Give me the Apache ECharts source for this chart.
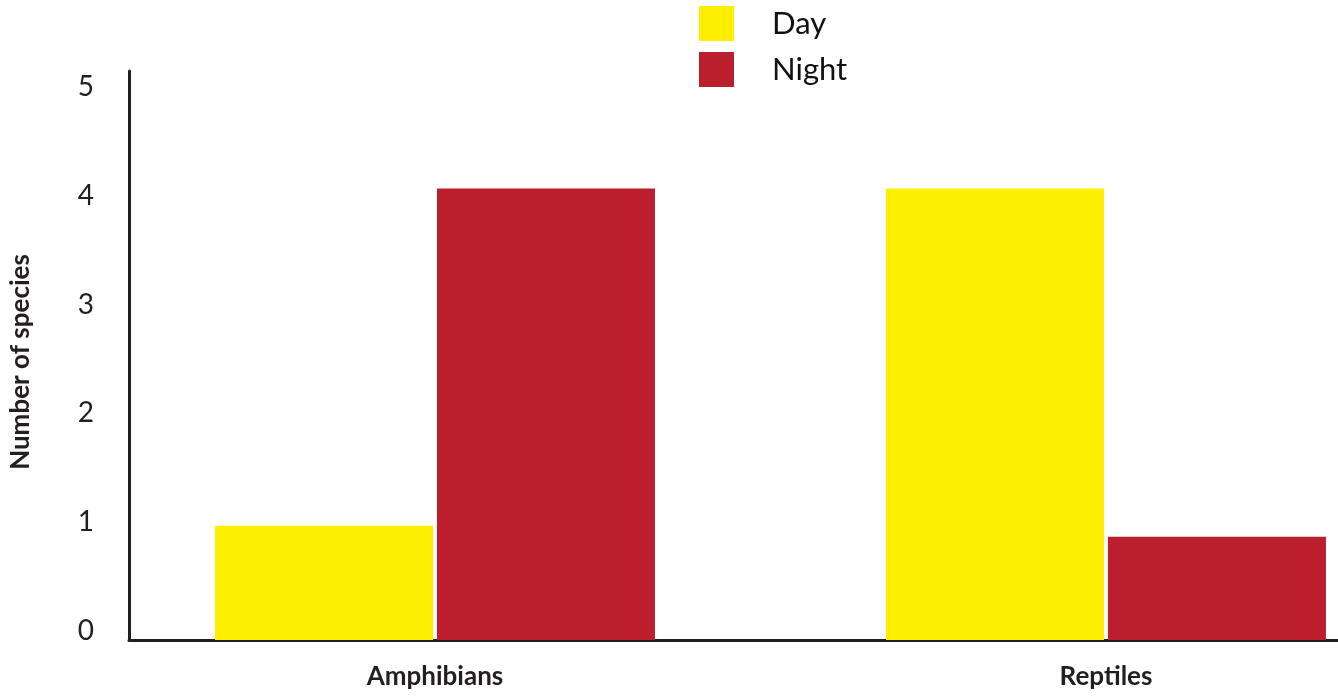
<!DOCTYPE html>
<html>
<head>
<meta charset="utf-8">
<script src="https://cdn.jsdelivr.net/npm/echarts@6/dist/echarts.min.js"></script>
<style>
  html, body { margin: 0; padding: 0; background: #ffffff; }
  #chart { width: 1338px; height: 696px; }
</style>
</head>
<body>
<div id="chart"></div>
<script>
// Species counts by activity period
const categories = ['Amphibians', 'Reptiles'];
const daySpecies = [1.05, 4.15];
const nightSpecies = [4.15, 0.95];
const seriesNames = ['Day', 'Night'];
const yMin = 0;
const yMax = 5.23;
const yStep = 1;

const ink = '#231F20';
const yellow = '#FEEF00';
const red = '#BB1F2E';
const font = 'Lato, "Open Sans", sans-serif';

const chart = echarts.init(document.getElementById('chart'));

chart.setOption({
  animation: false,
  backgroundColor: '#ffffff',
  legend: {
    orient: 'vertical',
    left: 699,
    top: 6,
    padding: 0,
    itemWidth: 35,
    itemHeight: 35,
    itemGap: 11,
    icon: 'rect',
    selectedMode: false,
    data: seriesNames,
    textStyle: {
      fontFamily: font,
      fontSize: 31,
      color: '#111111',
      padding: [0, 0, 0, 33]
    }
  },
  grid: [
    // frame grid: carries the visible axis lines and value labels
    { left: 128, right: 0, top: 71, bottom: 56, containLabel: false },
    // bar grid: category ticks sit at the centre of each bar pair
    { left: 435, right: 232, top: 71, bottom: 56, containLabel: false }
  ],
  xAxis: [
    {
      gridIndex: 0,
      type: 'category',
      data: ['', ''],
      axisLine: { show: true, lineStyle: { color: ink, width: 3 } },
      axisTick: { show: false },
      axisLabel: { show: false },
      splitLine: { show: false }
    },
    {
      gridIndex: 1,
      type: 'category',
      boundaryGap: false,
      data: categories,
      axisLine: { show: false },
      axisTick: { show: false },
      splitLine: { show: false },
      axisLabel: {
        margin: 24,
        fontFamily: font,
        fontSize: 26,
        fontWeight: 'bold',
        color: ink
      }
    }
  ],
  yAxis: [
    {
      gridIndex: 0,
      type: 'value',
      min: yMin,
      max: yMax,
      interval: yStep,
      name: 'Number of species',
      nameLocation: 'middle',
      nameGap: 95,
      nameRotate: 90,
      nameTextStyle: {
        fontFamily: font,
        fontSize: 26,
        fontWeight: 'bold',
        color: ink,
        padding: [0, 13, 0, 0]
      },
      axisLine: { show: true, lineStyle: { color: ink, width: 3 } },
      axisTick: { show: false },
      splitLine: { show: false },
      axisLabel: {
        showMaxLabel: false,
        margin: 35,
        verticalAlign: 'bottom',
        lineHeight: 18,
        fontFamily: font,
        fontSize: 28,
        color: ink,
        formatter: function (v) { return Number.isInteger(v) ? String(v) : ''; }
      }
    },
    {
      gridIndex: 1,
      type: 'value',
      min: yMin,
      max: yMax,
      show: false,
      splitLine: { show: false }
    }
  ],
  series: [
    {
      name: seriesNames[0],
      type: 'bar',
      xAxisIndex: 1,
      yAxisIndex: 1,
      clip: false,
      data: daySpecies,
      barWidth: 218,
      barGap: '1.8%',
      itemStyle: { color: yellow }
    },
    {
      name: seriesNames[1],
      type: 'bar',
      xAxisIndex: 1,
      yAxisIndex: 1,
      clip: false,
      data: nightSpecies,
      barWidth: 218,
      barGap: '1.8%',
      itemStyle: { color: red }
    }
  ]
});
</script>
</body>
</html>
